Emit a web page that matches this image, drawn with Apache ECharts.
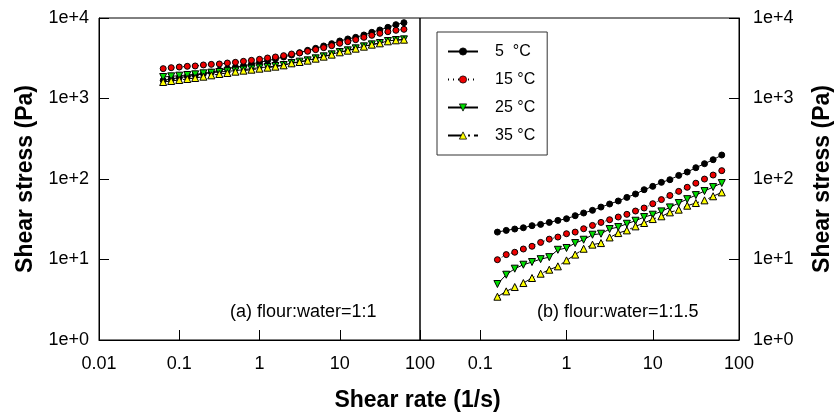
<!DOCTYPE html>
<html>
<head>
<meta charset="utf-8">
<script src="https://cdn.jsdelivr.net/npm/echarts@6/dist/echarts.min.js"></script>
<style>
  html, body { margin: 0; padding: 0; background: #fff; }
  #chart { width: 835px; height: 419px; }
</style>
</head>
<body>
<div id="chart"></div>
<script>
// shear rate (1/s)
var rateA = [0.0631, 0.0794, 0.1, 0.126, 0.158, 0.2, 0.251, 0.316, 0.398, 0.501, 0.631, 0.794, 1, 1.26, 1.58, 2, 2.51, 3.16, 3.98, 5.01, 6.31, 7.94, 10, 12.6, 15.8, 20, 25.1, 31.6, 39.8, 50.1, 63.1];
var rateB = [0.158, 0.2, 0.251, 0.316, 0.398, 0.501, 0.631, 0.794, 1, 1.26, 1.58, 2, 2.51, 3.16, 3.98, 5.01, 6.31, 7.94, 10, 12.6, 15.8, 20, 25.1, 31.6, 39.8, 50.1, 63.1];

// (a) flour:water=1:1, shear stress (Pa)
var a5 = [1680, 1745, 1815, 1885, 1940, 2035, 2115, 2240, 2350, 2440, 2535, 2685, 2815, 2955, 3100, 3280, 3470, 3710, 3965, 4200, 4490, 4800, 5180, 5490, 5750, 6150, 6640, 7100, 7660, 8260, 8750];
var a15 = [2350, 2415, 2460, 2510, 2535, 2610, 2655, 2685, 2760, 2815, 2895, 2980, 3070, 3185, 3280, 3405, 3570, 3675, 3855, 4045, 4280, 4530, 4845, 5080, 5380, 5750, 6090, 6450, 6760, 7030, 7230];
var a25 = [1849, 1885, 1921, 1959, 1996, 2054, 2094, 2134, 2175, 2218, 2281, 2348, 2416, 2462, 2533, 2607, 2760, 2869, 2979, 3154, 3341, 3538, 3782, 3966, 4200, 4446, 4708, 4891, 5179, 5330, 5430];
var a35 = [1603, 1650, 1698, 1747, 1798, 1867, 1940, 2015, 2074, 2154, 2218, 2281, 2348, 2416, 2486, 2582, 2735, 2840, 2951, 3125, 3310, 3505, 3746, 3929, 4160, 4404, 4664, 4845, 5130, 5280, 5380];

// (b) flour:water=1:1.5
var b5 = [21.9, 23.0, 23.9, 24.8, 26.3, 27.3, 28.9, 30.6, 32.1, 35.0, 37.8, 40.8, 44.8, 48.9, 53.3, 59.1, 65.1, 73.6, 81.0, 90.8, 98.0, 110.9, 122.1, 138.1, 154.9, 173.6, 198.5];
var b15 = [9.94, 11.5, 12.3, 13.5, 14.6, 16.3, 17.9, 19.0, 20.9, 21.9, 24.1, 26.5, 28.9, 31.2, 33.7, 36.4, 40.0, 43.6, 49.3, 55.5, 62.4, 70.2, 78.9, 88.7, 99.8, 112, 127];
var b25 = [4.96, 6.47, 7.69, 8.61, 9.30, 10.1, 10.7, 13.2, 13.9, 16.0, 17.6, 20.3, 20.9, 23.9, 25.3, 27.8, 30.3, 33.7, 36.0, 39.6, 44.4, 50.3, 56.2, 63.1, 70.8, 79.4, 89.1];
var b35 = [3.45, 4.02, 4.55, 5.10, 5.89, 6.66, 7.47, 8.22, 9.75, 11.5, 13.6, 15.3, 16.0, 18.8, 21.3, 23.0, 25.8, 28.4, 31.8, 34.4, 38.5, 41.6, 46.6, 50.3, 54.3, 61.0, 68.2];

var seriesNames = ['5  °C', '15 °C', '25 °C', '35 °C'];
var xTickLabels = { '-2': '0.01', '-1': '0.1', '0': '1', '1': '10', '2': '100' };
var yTickLabels = { '0': '1e+0', '1': '1e+1', '2': '1e+2', '3': '1e+3', '4': '1e+4' };

var font = "'Liberation Sans', Arial, sans-serif";

function decadeLabel(map) {
  return function(v) {
    var l = Math.log10(v);
    var r = Math.round(l);
    if (Math.abs(l - r) > 1e-6) return '';
    return map[String(r)] || '';
  };
}

function pairs(xs, ys) {
  return xs.map(function(x, i) { return [x, ys[i]]; });
}

var looks = [
  { symbol: 'circle', size: 6, color: '#000000', rotate: 0, line: 'solid' },
  { symbol: 'circle', size: 6, color: '#ee0000', rotate: 0, line: [1, 4] },
  { symbol: 'triangle', size: 7, color: '#00dd00', rotate: 180, line: 'solid' },
  { symbol: 'triangle', size: 7, color: '#ffff00', rotate: 0, line: [16, 4, 2, 4] }
];

function makeSeries(name, look, data, idx) {
  return {
    name: name,
    type: 'line',
    xAxisIndex: idx,
    yAxisIndex: idx,
    data: data,
    symbol: look.symbol,
    symbolSize: look.size,
    symbolRotate: look.rotate,
    showAllSymbol: true,
    itemStyle: { color: look.color, borderColor: '#000', borderWidth: 1 },
    lineStyle: { color: '#000', width: 1, type: look.line },
    emphasis: { disabled: true }
  };
}

var seriesList = [];
var setA = [a5, a15, a25, a35];
var setB = [b5, b15, b25, b35];
for (var i = 0; i < 4; i++) {
  seriesList.push(makeSeries(seriesNames[i], looks[i], pairs(rateA, setA[i]), 0));
}
for (var j = 0; j < 4; j++) {
  seriesList.push(makeSeries(seriesNames[j], looks[j], pairs(rateB, setB[j]), 1));
}

var axisCommon = {
  type: 'log',
  logBase: 10,
  axisLine: { show: true, lineStyle: { color: '#000', width: 1 } },
  axisTick: { show: true, inside: true, length: 10, lineStyle: { color: '#000', width: 1 } },
  splitLine: { show: false },
  minorTick: { show: false }
};

function xAxisFor(idx, min) {
  return Object.assign({}, axisCommon, {
    gridIndex: idx,
    min: min,
    max: 100,
    axisLabel: { color: '#000', fontSize: 18, fontFamily: font, margin: 15, formatter: decadeLabel(xTickLabels), showMinLabel: true, showMaxLabel: true }
  });
}

function yAxisFor(idx, pos, margin) {
  return Object.assign({}, axisCommon, {
    gridIndex: idx,
    position: pos,
    min: 1,
    max: 10000,
    name: 'Shear stress (Pa)',
    nameLocation: 'middle',
    nameGap: pos === 'left' ? 62 : 72,
    nameRotate: 90,
    nameTextStyle: { color: '#000', fontSize: 23, fontWeight: 'bold', fontFamily: font },
    axisLabel: { color: '#000', fontSize: 18, fontFamily: font, margin: margin, formatter: decadeLabel(yTickLabels) }
  });
}

var chart = echarts.init(document.getElementById('chart'), null, { renderer: 'canvas' });
chart.setOption({
  animation: false,
  backgroundColor: '#fff',
  grid: [
    { left: 99, top: 18, width: 321, height: 322, show: true, borderColor: '#000', borderWidth: 1, backgroundColor: 'transparent' },
    { left: 420, top: 18, width: 324, height: 322, show: true, borderColor: '#000', borderWidth: 1, backgroundColor: 'transparent' }
  ],
  xAxis: [xAxisFor(0, 0.01), xAxisFor(1, 0.02)],
  yAxis: [yAxisFor(0, 'left', 10), yAxisFor(1, 'right', 14)],
  legend: {
    data: seriesNames,
    orient: 'vertical',
    left: 437,
    top: 32,
    padding: [10, 12, 10, 10],
    itemWidth: 30,
    itemHeight: 9,
    itemGap: 9,
    itemStyle: { borderWidth: 0.8 },
    backgroundColor: '#fff',
    borderColor: '#333',
    borderWidth: 1,
    borderRadius: 0,
    selectedMode: false,
    textStyle: { color: '#000', fontSize: 16, fontFamily: font, lineHeight: 19, padding: [0, 0, 0, 12] }
  },
  graphic: [
    { type: 'text', left: 230, top: 303, style: { text: '(a) flour:water=1:1', fill: '#000', font: '18px ' + font } },
    { type: 'text', left: 537, top: 303, style: { text: '(b) flour:water=1:1.5', fill: '#000', font: '18px ' + font } },
    { type: 'text', left: 'center', top: 389, style: { text: 'Shear rate (1/s)', fill: '#000', font: 'bold 23px ' + font } }
  ],
  series: seriesList
});
window.addEventListener('resize', function() { chart.resize(); });
</script>
</body>
</html>
